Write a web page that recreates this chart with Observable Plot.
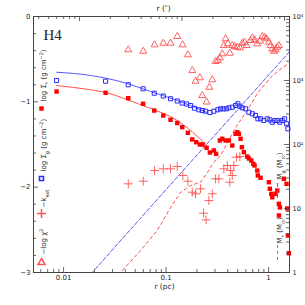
<!DOCTYPE html>
<html><head><meta charset="utf-8">
<script src="https://cdn.jsdelivr.net/npm/d3@7"></script>
<script src="https://cdn.jsdelivr.net/npm/@observablehq/plot@0.6"></script>
<style>html,body{margin:0;padding:0;background:#fff;}</style>
</head><body><div id="chart"></div>
<script>
// ---- data (r in pc) ----
const blueSqR = [0.00855,0.02569,0.04278,0.05964,0.07671,0.09391,0.1106,0.1286,0.1439,0.1585,0.1734,0.1897,0.2089,0.2255,0.2429,0.2675,0.2926,0.3200,0.3401,0.3614,0.3866,0.4100,0.4425,0.4766,0.5013,0.5247,0.5534,0.5965,0.6426,0.6934,0.7469,0.7865,0.8356,0.8995,0.9709,1.030,1.086,1.152,1.216,1.288,1.359,1.432,1.499,1.543];
const blueSqV = [-0.750,-0.758,-0.800,-0.847,-0.899,-0.932,-0.964,-0.990,-1.014,-1.025,-1.043,-1.075,-1.093,-1.102,-1.110,-1.125,-1.110,-1.093,-1.082,-1.082,-1.082,-1.070,-1.063,-1.043,-1.023,-1.051,-1.070,-1.082,-1.122,-1.140,-1.160,-1.199,-1.199,-1.219,-1.199,-1.211,-1.239,-1.219,-1.219,-1.239,-1.219,-1.199,-1.257,-1.316];

const redSqR = [0.008547,0.02569,0.04278,0.05964,0.07671,0.09391,0.1106,0.1286,0.1439,0.1632,0.1801,0.1971,0.2137,0.2270,0.2484,0.2675,0.2926,0.3075,0.3348,0.3533,0.3805,0.4099,0.4423,0.4764,0.4950,0.5131,0.5331,0.5489,0.5741,0.6197,0.6424,0.6780,0.7091,0.7301,0.7758,0.7862,0.8356,1.0067,1.0297,1.0624,1.0867,1.1703,1.2158,1.2603,1.2888,1.2603,1.4103,1.4982,1.5219,1.5427,1.5776];
const redSqV = [-0.879,-0.894,-0.957,-1.023,-1.102,-1.160,-1.211,-1.248,-1.297,-1.363,-1.441,-1.473,-1.500,-1.500,-1.539,-1.594,-1.570,-1.609,-1.453,-1.433,-1.453,-1.453,-1.512,-1.375,-1.356,-1.375,-1.433,-1.532,-1.590,-1.641,-1.664,-1.688,-1.726,-1.746,-1.805,-1.863,-1.890,-1.942,-2.019,-2.078,-2.118,-2.078,-2.039,-2.195,-2.238,-2.332,-1.902,-1.961,-2.250,-2.566,-2.774];

const triR = [0.04278,0.05991,0.07723,0.09391,0.1106,0.1286,0.1449,0.1632,0.1801,0.1940,0.2137,0.2255,0.2484,0.2645,0.2823,0.3040,0.3201,0.3348,0.3533,0.3663,0.3805,0.4006,0.4190,0.4423,0.4657,0.4950,0.5248,0.5538,0.5832,0.6100,0.6675,0.6934,0.7301,0.7758,0.8225,0.8680,0.9142,0.9561,1.0067,1.0459,1.0867,1.1264,1.1703,1.2158,1.2603];
const triV = [-0.390,-0.407,-0.332,-0.313,-0.313,-0.234,-0.332,-0.449,-0.633,-0.758,-0.718,-0.926,-1.002,-0.829,-0.741,-0.527,-0.516,-0.484,-0.437,-0.340,-0.261,-0.320,-0.430,-0.340,-0.352,-0.360,-0.367,-0.313,-0.301,-0.340,-0.281,-0.250,-0.273,-0.320,-0.289,-0.234,-0.243,-0.261,-0.301,-0.340,-0.379,-0.407,-0.390,-0.360,-0.340];

const plusR = [0.04278,0.05991,0.07723,0.09391,0.1106,0.1286,0.1459,0.1632,0.1801,0.1940,0.2171,0.2616,0.2823,0.2322,0.2456,0.3040,0.3273,0.3663,0.3955,0.4259,0.4423,0.4190,0.4585,0.4873,0.5248];
const plusV = [-1.961,-1.930,-1.805,-1.785,-1.785,-1.758,-1.863,-1.930,-2.059,-2.078,-2.019,-2.156,-2.078,-2.305,-2.383,-1.902,-1.902,-1.785,-1.746,-1.805,-1.863,-1.942,-1.746,-1.649,-1.641];

const blueLineR = [0.00855,0.01834,0.04178,0.0706,0.1286,0.2519];
const blueLineV = [-0.653,-0.691,-0.785,-0.879,-0.984,-1.125];
const redLineR = [0.00855,0.01834,0.02669,0.04178,0.06556,0.1286,0.2519];
const redLineV = [-0.809,-0.859,-0.894,-0.976,-1.063,-1.219,-1.512];

// cumulative masses (Msun)
const massGasR = [0.0185,0.1286,0.2716,1.52,1.60];
const massGasM = [0.95,31.1,117.5,2570,2840];
const massStarR = [0.0350,0.03597,0.0564,0.0820,0.1107,0.1385,0.1734,0.2172,0.2525,0.2906,0.3401,0.4766,0.6199,0.7755,1.047,1.253,1.520,1.60];
const massStarM = [0.9,1.0,2.21,4.53,10.4,17.8,22.9,25.8,36.5,52.3,67.3,184.5,340,626,1114,1432,1778,1850];

// ticks
const xMajor = [0.01, 0.1, 1];
const xMinor = [0.006,0.007,0.008,0.009,0.02,0.03,0.04,0.05,0.06,0.07,0.08,0.09,0.2,0.3,0.4,0.5,0.6,0.7,0.8,0.9];
const arcMajor = [1, 10, 100];
const arcMinor = [0.4,0.5,0.6,0.7,0.8,0.9,2,3,4,5,6,7,8,9,20,30,40,50,60,70,80,90];
const arcLabels = ["1", "10", "10²"];
const yMajor = [-3, -2, -1, 0];
const yMinor = [-2.8,-2.6,-2.4,-2.2,-1.8,-1.6,-1.4,-1.2,-0.8,-0.6,-0.4,-0.2];
const massMajor = [1, 10, 100, 1000, 10000];
const massLabels = ["1", "10", "10²", "10³", "10⁴"];
const massMinor = [2,3,4,5,6,7,8,9,20,30,40,50,60,70,80,90,200,300,400,500,600,700,800,900,2000,3000,4000,5000,6000,7000,8000,9000];

const PC_PER_ARCSEC = 0.0143;
const mToY = m => -3 + 0.75 * Math.log10(m);
const zip = (a, b) => a.map((v, i) => ({r: v, v: b[i]}));
const zipM = (a, b) => a.map((v, i) => ({r: v, v: mToY(b[i])}));

const FH = 256, FW = 256;
const AX = "#444";
const RED = "#ff0000", RED2 = "#ff5050", BLUE = "#2a2aff", BLUE2 = "#5858ff";

function tX(vals, len, top) {
  return Plot.tickX(vals, {x: d => d, stroke: AX, strokeWidth: 0.8,
    insetTop: top ? 0 : FH - len, insetBottom: top ? FH - len : 0});
}
function tY(vals, len, right) {
  return Plot.tickY(vals, {y: d => d, stroke: AX, strokeWidth: 0.8,
    insetLeft: right ? FW - len : 0, insetRight: right ? 0 : FW - len});
}

const svg = Plot.plot({
  width: 305, height: 305,
  marginLeft: 33, marginRight: 16, marginTop: 16, marginBottom: 33,
  x: {type: "log", domain: [0.00509, 1.60]},
  y: {domain: [-3, 0]},
  style: {fontFamily: "DejaVu Sans", fontSize: "7px", color: "#222", background: "#fff"},
  marks: [
    // data
    Plot.line(zipM(massGasR, massGasM), {x: "r", y: "v", stroke: BLUE2, strokeWidth: 1, strokeDasharray: "4,2", clip: true}),
    Plot.line(zipM(massStarR, massStarM), {x: "r", y: "v", stroke: RED2, strokeWidth: 1, strokeDasharray: "3,3", clip: true}),
    Plot.line(zip(blueLineR, blueLineV), {x: "r", y: "v", stroke: BLUE2, strokeWidth: 1, curve: "monotone-x"}),
    Plot.line(zip(redLineR, redLineV), {x: "r", y: "v", stroke: RED2, strokeWidth: 1, curve: "monotone-x"}),
    Plot.dot(zip(triR, triV), {x: "r", y: "v", symbol: "triangle", r: 2.6, fill: "none", stroke: RED2, strokeWidth: 0.9}),
    Plot.dot(zip(plusR, plusV), {x: "r", y: "v", symbol: "plus", r: 3, stroke: RED2, strokeWidth: 0.9}),
    Plot.dot(zip(blueSqR, blueSqV), {x: "r", y: "v", symbol: "square", r: 2.3, fill: "none", stroke: BLUE, strokeWidth: 1}),
    Plot.dot(zip(redSqR, redSqV), {x: "r", y: "v", symbol: "square", r: 2.5, fill: RED, stroke: null}),
    // frame and ticks
    Plot.frame({stroke: AX, strokeWidth: 1}),
    tX(xMajor, 5, false), tX(xMinor, 3, false),
    tX(arcMajor.map(a => a * PC_PER_ARCSEC), 5, true), tX(arcMinor.map(a => a * PC_PER_ARCSEC), 3, true),
    tY(yMajor, 5, false), tY(yMinor, 3, false),
    tY(massMajor.map(mToY), 5, true), tY(massMinor.map(mToY), 3, true),
    // tick labels
    Plot.axisX({anchor: "bottom", ticks: xMajor, tickSize: 0, tickPadding: 3, tickFormat: d => String(d), label: null}),
    Plot.axisX({anchor: "top", ticks: arcMajor.map(a => a * PC_PER_ARCSEC), tickSize: 0, tickPadding: 3, tickFormat: (d, i) => arcLabels[i], label: null}),
    Plot.axisY({anchor: "left", ticks: yMajor, tickSize: 0, tickPadding: 3, tickFormat: d => d === 0 ? "0" : "−" + (-d), label: null}),
    Plot.axisY({anchor: "right", ticks: massMajor.map(mToY), tickSize: 0, tickPadding: 3, tickFormat: (d, i) => massLabels[i], label: null, fontSize: 6.5}),
    // axis titles
    Plot.text(["r (pc)"], {frameAnchor: "bottom", dx: 3, dy: 16, text: d => d, fontSize: 7.5}),
    Plot.text(["r (″)"], {frameAnchor: "top", dx: 2, dy: -11, text: d => d, fontSize: 7.5}),
    Plot.text(["H4"], {frameAnchor: "top-left", dx: 10, dy: 13, text: d => d, fontFamily: "Liberation Serif", fontSize: 15, textAnchor: "start"}),
    // left legend
    Plot.dot([0], {frameAnchor: "top-left", dx: 8, dy: 92, symbol: "square", r: 2.5, fill: RED}),
    Plot.text(["log Σ_{*} (g cm^{−2})"], {frameAnchor: "top-left", dx: 8, dy: 85, rotate: -90, textAnchor: "start", fontSize: 7, text: d => d}),
    Plot.dot([0], {frameAnchor: "top-left", dx: 8, dy: 162, symbol: "square", r: 2.3, fill: "none", stroke: BLUE}),
    Plot.text(["log Σ_{g} (g cm^{−2})"], {frameAnchor: "top-left", dx: 8, dy: 155, rotate: -90, textAnchor: "start", fontSize: 7, text: d => d}),
    Plot.dot([0], {frameAnchor: "top-left", dx: 8, dy: 197, symbol: "plus", r: 3, stroke: RED2}),
    Plot.text(["−k_{ext}"], {frameAnchor: "top-left", dx: 8, dy: 191, rotate: -90, textAnchor: "start", fontSize: 7, text: d => d}),
    Plot.dot([0], {frameAnchor: "top-left", dx: 8, dy: 246, symbol: "triangle", r: 2.6, fill: "none", stroke: RED2}),
    Plot.text(["−log χ^{2}"], {frameAnchor: "top-left", dx: 8, dy: 238, rotate: -90, textAnchor: "start", fontSize: 7, text: d => d}),
    // right legend
    Plot.ruleX([1.60], {dx: -12, insetTop: 167, insetBottom: 74, stroke: BLUE2, strokeDasharray: "4,2"}),
    Plot.text(["M_{g} (M_{⊙})"], {frameAnchor: "top-right", dx: -12, dy: 163, rotate: -90, textAnchor: "start", fontSize: 7, text: d => d}),
    Plot.ruleX([1.60], {dx: -12, insetTop: 229, insetBottom: 9, stroke: RED2, strokeDasharray: "3,3"}),
    Plot.text(["M_{*} (M_{⊙})"], {frameAnchor: "top-right", dx: -12, dy: 227, rotate: -90, textAnchor: "start", fontSize: 7, text: d => d})
  ]
});

// rich text: _{sub} and ^{sup}
d3.select(svg).selectAll("text").each(function () {
  const s = this.textContent;
  if (!/[_^]\{/.test(s)) return;
  const el = d3.select(this);
  el.text(null);
  const re = /([_^])\{([^}]*)\}/g;
  let last = 0, m;
  while ((m = re.exec(s))) {
    if (m.index > last) el.append("tspan").text(s.slice(last, m.index));
    el.append("tspan").attr("font-size", "70%").attr("baseline-shift", m[1] === "_" ? "sub" : "super").text(m[2]);
    last = re.lastIndex;
  }
  if (last < s.length) el.append("tspan").text(s.slice(last));
});

document.getElementById("chart").appendChild(svg);
</script></body></html>
